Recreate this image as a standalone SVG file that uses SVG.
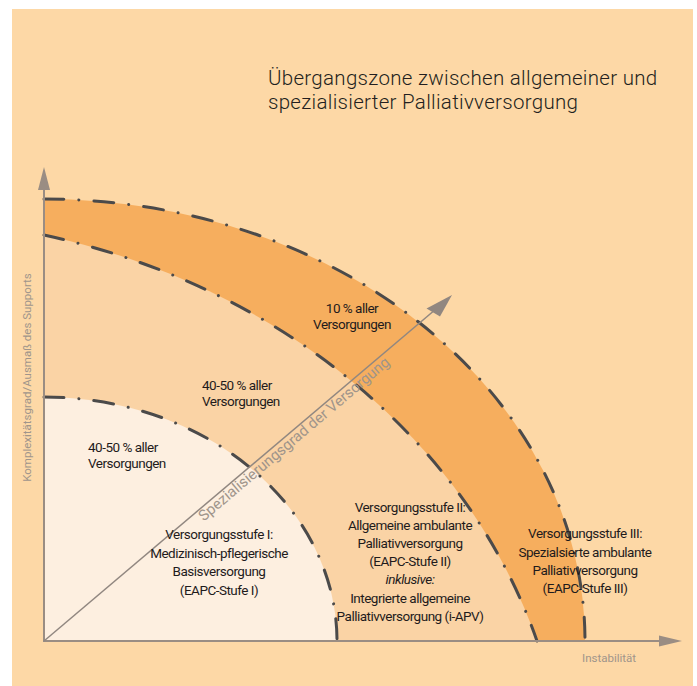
<svg xmlns="http://www.w3.org/2000/svg" width="697" height="686" viewBox="0 0 697 686">
<defs>
<style>
.bg{fill:#fdd8a6}
.edge{fill:none;stroke:#4b4a4a;stroke-width:3;stroke-linecap:round;stroke-dasharray:20 15 0.01 15}
.axis{stroke:#9a8d83;stroke-width:2;fill:none}
.ahead{fill:#9a8d83}
.t{font-family:Roboto,"Liberation Sans",sans-serif;font-size:13.5px;letter-spacing:-0.5px;fill:#1f1b1c}
.c{text-anchor:middle}
.g{font-family:Roboto,"Liberation Sans",sans-serif;fill:#a0958b}
.title{font-family:Roboto,"Liberation Sans",sans-serif;font-weight:300;font-size:20.5px;letter-spacing:0.3px;fill:#231f20}
</style>
</defs>
<rect class="bg" x="12" y="9" width="681" height="677"/>
<g id="title">
<text class="title" x="268" y="85">Übergangszone zwischen allgemeiner und</text>
<text class="title" x="268" y="109">spezialisierter Palliativversorgung</text>
</g>
<g id="zone-outer">
<path d="M44,199 A541,442 0 0 1 585,641 L44,641 Z" fill="#f6ae5e"/>
</g>
<g id="zone-middle">
<path d="M44,235 A692,594.2 0 0 1 537,641 L44,641 Z" fill="#fad3a5"/>
</g>
<g id="zone-inner">
<path d="M44,397 A293,244 0 0 1 337,641 L44,641 Z" fill="#fdefe0"/>
</g>
<g id="connectors">
<path class="edge" d="M44,199 A541,442 0 0 1 585,641"/>
<path class="edge" d="M44,235 A692,594.2 0 0 1 537,641"/>
<path class="edge" d="M44,397 A293,244 0 0 1 337,641"/>
<line class="axis" x1="44" y1="642" x2="44" y2="188"/>
<polygon class="ahead" points="44,167 38,190 50,190"/>
<line class="axis" x1="43" y1="641" x2="662" y2="641"/>
<polygon class="ahead" points="682,641 659,635.5 659,646.5"/>
<line x1="44" y1="641" x2="436" y2="309" stroke="#918780" stroke-width="1.5"/>
<polygon fill="#918780" points="452,295 426.5,308.5 440,316.5"/>
</g>
<g id="axis-labels">
<text class="g" font-size="11.5" text-anchor="middle" transform="translate(31,377.5) rotate(-90)">Komplexitätsgrad/Ausmaß des Supports</text>
<text class="g" font-size="11.5" x="582" y="662">Instabilität</text>
<text class="g" font-size="15" transform="translate(44,641) rotate(-40.2)" x="199" y="12">Spezialisierungsgrad der Versorgung</text>
</g>
<g id="label-10">
<text class="t c" x="352" y="313">10 % aller</text>
<text class="t c" x="352" y="329">Versorgungen</text>
</g>
<g id="label-4050-mid">
<text class="t" x="202" y="390">40-50 % aller</text>
<text class="t" x="202" y="406">Versorgungen</text>
</g>
<g id="label-4050-inner">
<text class="t" x="88" y="452">40-50 % aller</text>
<text class="t" x="88" y="468">Versorgungen</text>
</g>
<g id="stufe-1">
<text class="t c" x="219" y="539">Versorgungsstufe I:</text>
<text class="t c" x="219" y="558">Medizinisch-pflegerische</text>
<text class="t c" x="219" y="576">Basisversorgung</text>
<text class="t c" x="219" y="595">(EAPC-Stufe I)</text>
</g>
<g id="stufe-2">
<text class="t c" x="410" y="512">Versorgungsstufe II:</text>
<text class="t c" x="410" y="530">Allgemeine ambulante</text>
<text class="t c" x="410" y="548">Palliativversorgung</text>
<text class="t c" x="410" y="566">(EAPC-Stufe II)</text>
<text class="t c" x="410" y="584" font-style="italic">inklusive:</text>
<text class="t c" x="410" y="603">Integrierte allgemeine</text>
<text class="t c" x="410" y="621">Palliativversorgung (i-APV)</text>
</g>
<g id="stufe-3">
<text class="t c" x="585" y="538">Versorgungsstufe III:</text>
<text class="t c" x="585" y="557">Spezialsierte ambulante</text>
<text class="t c" x="585" y="575">Palliativversorgung</text>
<text class="t c" x="585" y="593">(EAPC-Stufe III)</text>
</g>
</svg>
